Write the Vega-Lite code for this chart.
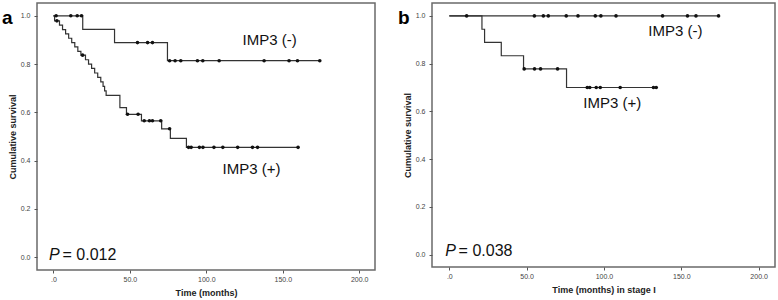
{
  "$schema": "https://vega.github.io/schema/vega-lite/v6.json",
  "padding": {"left": 1, "top": 2, "right": 0, "bottom": 0},
  "background": "white",
  "config": {
    "font": "Liberation Sans",
    "view": {"stroke": "#6a6a6a", "strokeWidth": 1.5},
    "axis": {
      "labelFont": "Liberation Sans", "labelFontSize": 7, "labelColor": "#444",
      "titleFont": "Liberation Sans", "titleFontSize": 9, "titleFontWeight": "bold", "titleColor": "#222",
      "tickColor": "#555", "tickSize": 3, "domain": false, "grid": false
    },
    "axisX": {"labelPadding": 2, "titlePadding": 6, "labelExpr": "datum.value == 0 ? '.0' : format(datum.value, '.1f')"},
    "axisY": {"labelPadding": 4, "titlePadding": 3, "format": ".1f"},
    "concat": {"spacing": 57},
    "title": {"font": "Liberation Sans", "fontSize": 19, "fontWeight": "bold", "color": "#000", "anchor": "start", "frame": "group", "offset": 0, "baseline": "alphabetic"}
  },
  "bounds": "flush",
  "datasets": {
    "km": [
      {"panel": "a", "group": "neg", "time": 0, "surv": 1, "censored": 0},
      {"panel": "a", "group": "neg", "time": 1.8, "surv": 1, "censored": 1},
      {"panel": "a", "group": "neg", "time": 11.4, "surv": 1, "censored": 1},
      {"panel": "a", "group": "neg", "time": 15.6, "surv": 1, "censored": 1},
      {"panel": "a", "group": "neg", "time": 18.4, "surv": 1, "censored": 1},
      {"panel": "a", "group": "neg", "time": 19.2, "surv": 0.944, "censored": 0},
      {"panel": "a", "group": "neg", "time": 40, "surv": 0.889, "censored": 0},
      {"panel": "a", "group": "neg", "time": 55, "surv": 0.889, "censored": 1},
      {"panel": "a", "group": "neg", "time": 61.6, "surv": 0.889, "censored": 1},
      {"panel": "a", "group": "neg", "time": 64.8, "surv": 0.889, "censored": 1},
      {"panel": "a", "group": "neg", "time": 74.6, "surv": 0.814, "censored": 0},
      {"panel": "a", "group": "neg", "time": 76, "surv": 0.814, "censored": 1},
      {"panel": "a", "group": "neg", "time": 79.6, "surv": 0.814, "censored": 1},
      {"panel": "a", "group": "neg", "time": 83.3, "surv": 0.814, "censored": 1},
      {"panel": "a", "group": "neg", "time": 94.2, "surv": 0.814, "censored": 1},
      {"panel": "a", "group": "neg", "time": 97.7, "surv": 0.814, "censored": 1},
      {"panel": "a", "group": "neg", "time": 108.4, "surv": 0.814, "censored": 1},
      {"panel": "a", "group": "neg", "time": 137.8, "surv": 0.814, "censored": 1},
      {"panel": "a", "group": "neg", "time": 154.1, "surv": 0.814, "censored": 1},
      {"panel": "a", "group": "neg", "time": 159.6, "surv": 0.814, "censored": 1},
      {"panel": "a", "group": "neg", "time": 174.2, "surv": 0.814, "censored": 1},

      {"panel": "a", "group": "pos", "time": 0, "surv": 1, "censored": 0},
      {"panel": "a", "group": "pos", "time": 0.8, "surv": 0.979, "censored": 0},
      {"panel": "a", "group": "pos", "time": 2.3, "surv": 0.979, "censored": 1},
      {"panel": "a", "group": "pos", "time": 4, "surv": 0.961, "censored": 0},
      {"panel": "a", "group": "pos", "time": 6, "surv": 0.943, "censored": 0},
      {"panel": "a", "group": "pos", "time": 8, "surv": 0.925, "censored": 0},
      {"panel": "a", "group": "pos", "time": 10, "surv": 0.907, "censored": 0},
      {"panel": "a", "group": "pos", "time": 12, "surv": 0.889, "censored": 0},
      {"panel": "a", "group": "pos", "time": 14, "surv": 0.871, "censored": 0},
      {"panel": "a", "group": "pos", "time": 16, "surv": 0.853, "censored": 0},
      {"panel": "a", "group": "pos", "time": 18, "surv": 0.837, "censored": 0},
      {"panel": "a", "group": "pos", "time": 19.1, "surv": 0.837, "censored": 1},
      {"panel": "a", "group": "pos", "time": 21, "surv": 0.818, "censored": 0},
      {"panel": "a", "group": "pos", "time": 23, "surv": 0.8, "censored": 0},
      {"panel": "a", "group": "pos", "time": 25, "surv": 0.782, "censored": 0},
      {"panel": "a", "group": "pos", "time": 27, "surv": 0.763, "censored": 0},
      {"panel": "a", "group": "pos", "time": 29, "surv": 0.745, "censored": 0},
      {"panel": "a", "group": "pos", "time": 31, "surv": 0.726, "censored": 0},
      {"panel": "a", "group": "pos", "time": 32.5, "surv": 0.708, "censored": 0},
      {"panel": "a", "group": "pos", "time": 33.5, "surv": 0.689, "censored": 0},
      {"panel": "a", "group": "pos", "time": 34.5, "surv": 0.67, "censored": 0},
      {"panel": "a", "group": "pos", "time": 43.5, "surv": 0.62, "censored": 0},
      {"panel": "a", "group": "pos", "time": 47.8, "surv": 0.592, "censored": 0},
      {"panel": "a", "group": "pos", "time": 48.5, "surv": 0.592, "censored": 1},
      {"panel": "a", "group": "pos", "time": 55.4, "surv": 0.592, "censored": 1},
      {"panel": "a", "group": "pos", "time": 57.6, "surv": 0.565, "censored": 0},
      {"panel": "a", "group": "pos", "time": 59.4, "surv": 0.565, "censored": 1},
      {"panel": "a", "group": "pos", "time": 62.8, "surv": 0.565, "censored": 1},
      {"panel": "a", "group": "pos", "time": 64.8, "surv": 0.565, "censored": 1},
      {"panel": "a", "group": "pos", "time": 70.2, "surv": 0.565, "censored": 1},
      {"panel": "a", "group": "pos", "time": 70.8, "surv": 0.532, "censored": 0},
      {"panel": "a", "group": "pos", "time": 76, "surv": 0.532, "censored": 1},
      {"panel": "a", "group": "pos", "time": 76.5, "surv": 0.492, "censored": 0},
      {"panel": "a", "group": "pos", "time": 87, "surv": 0.455, "censored": 0},
      {"panel": "a", "group": "pos", "time": 88.4, "surv": 0.455, "censored": 1},
      {"panel": "a", "group": "pos", "time": 90.1, "surv": 0.455, "censored": 1},
      {"panel": "a", "group": "pos", "time": 95.5, "surv": 0.455, "censored": 1},
      {"panel": "a", "group": "pos", "time": 97.8, "surv": 0.455, "censored": 1},
      {"panel": "a", "group": "pos", "time": 105, "surv": 0.455, "censored": 1},
      {"panel": "a", "group": "pos", "time": 110.8, "surv": 0.455, "censored": 1},
      {"panel": "a", "group": "pos", "time": 120.5, "surv": 0.455, "censored": 1},
      {"panel": "a", "group": "pos", "time": 130.2, "surv": 0.455, "censored": 1},
      {"panel": "a", "group": "pos", "time": 133.5, "surv": 0.455, "censored": 1},
      {"panel": "a", "group": "pos", "time": 160, "surv": 0.455, "censored": 1},

      {"panel": "b", "group": "neg", "time": 0, "surv": 1, "censored": 0},
      {"panel": "b", "group": "neg", "time": 11.2, "surv": 1, "censored": 1},
      {"panel": "b", "group": "neg", "time": 55, "surv": 1, "censored": 1},
      {"panel": "b", "group": "neg", "time": 60.8, "surv": 1, "censored": 1},
      {"panel": "b", "group": "neg", "time": 64, "surv": 1, "censored": 1},
      {"panel": "b", "group": "neg", "time": 75.6, "surv": 1, "censored": 1},
      {"panel": "b", "group": "neg", "time": 83.2, "surv": 1, "censored": 1},
      {"panel": "b", "group": "neg", "time": 94.4, "surv": 1, "censored": 1},
      {"panel": "b", "group": "neg", "time": 98, "surv": 1, "censored": 1},
      {"panel": "b", "group": "neg", "time": 107.8, "surv": 1, "censored": 1},
      {"panel": "b", "group": "neg", "time": 137.9, "surv": 1, "censored": 1},
      {"panel": "b", "group": "neg", "time": 154, "surv": 1, "censored": 1},
      {"panel": "b", "group": "neg", "time": 159.5, "surv": 1, "censored": 1},
      {"panel": "b", "group": "neg", "time": 174.1, "surv": 1, "censored": 1},

      {"panel": "b", "group": "pos", "time": 0, "surv": 1, "censored": 0},
      {"panel": "b", "group": "pos", "time": 21.1, "surv": 0.944, "censored": 0},
      {"panel": "b", "group": "pos", "time": 22.8, "surv": 0.889, "censored": 0},
      {"panel": "b", "group": "pos", "time": 33.6, "surv": 0.833, "censored": 0},
      {"panel": "b", "group": "pos", "time": 48, "surv": 0.778, "censored": 0},
      {"panel": "b", "group": "pos", "time": 48.4, "surv": 0.778, "censored": 1},
      {"panel": "b", "group": "pos", "time": 55.1, "surv": 0.778, "censored": 1},
      {"panel": "b", "group": "pos", "time": 59, "surv": 0.778, "censored": 1},
      {"panel": "b", "group": "pos", "time": 70, "surv": 0.778, "censored": 1},
      {"panel": "b", "group": "pos", "time": 75.8, "surv": 0.7, "censored": 0},
      {"panel": "b", "group": "pos", "time": 89.2, "surv": 0.7, "censored": 1},
      {"panel": "b", "group": "pos", "time": 90.8, "surv": 0.7, "censored": 1},
      {"panel": "b", "group": "pos", "time": 95, "surv": 0.7, "censored": 1},
      {"panel": "b", "group": "pos", "time": 97.6, "surv": 0.7, "censored": 1},
      {"panel": "b", "group": "pos", "time": 110.5, "surv": 0.7, "censored": 1},
      {"panel": "b", "group": "pos", "time": 132, "surv": 0.7, "censored": 1},
      {"panel": "b", "group": "pos", "time": 133.8, "surv": 0.7, "censored": 1}
    ],
    "labels": [
      {"panel": "a", "kind": "group", "label": "IMP3 (-)", "time": 123.7, "surv": 0.899},
      {"panel": "a", "kind": "group", "label": "IMP3 (+)", "time": 110.6, "surv": 0.365},
      {"panel": "a", "kind": "p", "label": "P", "time": -2.9, "surv": 0.01},
      {"panel": "a", "kind": "pval", "label": "= 0.012", "time": 6.0, "surv": 0.01},
      {"panel": "b", "kind": "group", "label": "IMP3 (-)", "time": 128.7, "surv": 0.938},
      {"panel": "b", "kind": "group", "label": "IMP3 (+)", "time": 86.6, "surv": 0.635},
      {"panel": "b", "kind": "p", "label": "P", "time": -2.6, "surv": 0.013},
      {"panel": "b", "kind": "pval", "label": "= 0.038", "time": 6.0, "surv": 0.013}
    ]
  },
  "hconcat": [
    {
      "width": 338,
      "height": 267,
      "title": {"text": "a", "dx": -35, "dy": 29},
      "encoding": {
        "x": {"field": "time", "type": "quantitative", "scale": {"domain": [-10.7, 210.3], "nice": false, "zero": false}, "axis": {"values": [0, 50, 100, 150, 200], "title": "Time (months)"}},
        "y": {"field": "surv", "type": "quantitative", "scale": {"domain": [-0.053, 1.053], "nice": false, "zero": false}, "axis": {"values": [0, 0.2, 0.4, 0.6, 0.8, 1.0], "title": "Cumulative survival"}}
      },
      "layer": [
        {"data": {"name": "km"}, "transform": [{"filter": "datum.panel == 'a'"}], "mark": {"type": "line", "interpolate": "step-after", "color": "#333", "strokeWidth": 1.2}, "encoding": {"detail": {"field": "group"}}},
        {"data": {"name": "km"}, "transform": [{"filter": "datum.panel == 'a' && datum.censored == 1"}], "mark": {"type": "circle", "size": 13, "color": "#111", "opacity": 1}},
        {"data": {"name": "labels"}, "transform": [{"filter": "datum.panel == 'a' && datum.kind == 'group'"}], "mark": {"type": "text", "align": "left", "baseline": "middle", "fontSize": 15, "color": "#111"}, "encoding": {"text": {"field": "label"}}},
        {"data": {"name": "labels"}, "transform": [{"filter": "datum.panel == 'a' && datum.kind == 'p'"}], "mark": {"type": "text", "align": "left", "baseline": "middle", "fontSize": 16, "fontStyle": "italic", "color": "#111"}, "encoding": {"text": {"field": "label"}}},
        {"data": {"name": "labels"}, "transform": [{"filter": "datum.panel == 'a' && datum.kind == 'pval'"}], "mark": {"type": "text", "align": "left", "baseline": "middle", "fontSize": 16, "color": "#111"}, "encoding": {"text": {"field": "label"}}}
      ]
    },
    {
      "width": 343,
      "height": 264,
      "title": {"text": "b", "dx": -34, "dy": 29},
      "encoding": {
        "x": {"field": "time", "type": "quantitative", "scale": {"domain": [-11.2, 210.6], "nice": false, "zero": false}, "axis": {"values": [0, 50, 100, 150, 200], "title": "Time (months) in stage I"}},
        "y": {"field": "surv", "type": "quantitative", "scale": {"domain": [-0.052, 1.054], "nice": false, "zero": false}, "axis": {"values": [0, 0.2, 0.4, 0.6, 0.8, 1.0], "title": "Cumulative survival"}}
      },
      "layer": [
        {"data": {"name": "km"}, "transform": [{"filter": "datum.panel == 'b'"}], "mark": {"type": "line", "interpolate": "step-after", "color": "#333", "strokeWidth": 1.2}, "encoding": {"detail": {"field": "group"}}},
        {"data": {"name": "km"}, "transform": [{"filter": "datum.panel == 'b' && datum.censored == 1"}], "mark": {"type": "circle", "size": 13, "color": "#111", "opacity": 1}},
        {"data": {"name": "labels"}, "transform": [{"filter": "datum.panel == 'b' && datum.kind == 'group'"}], "mark": {"type": "text", "align": "left", "baseline": "middle", "fontSize": 15, "color": "#111"}, "encoding": {"text": {"field": "label"}}},
        {"data": {"name": "labels"}, "transform": [{"filter": "datum.panel == 'b' && datum.kind == 'p'"}], "mark": {"type": "text", "align": "left", "baseline": "middle", "fontSize": 16, "fontStyle": "italic", "color": "#111"}, "encoding": {"text": {"field": "label"}}},
        {"data": {"name": "labels"}, "transform": [{"filter": "datum.panel == 'b' && datum.kind == 'pval'"}], "mark": {"type": "text", "align": "left", "baseline": "middle", "fontSize": 16, "color": "#111"}, "encoding": {"text": {"field": "label"}}}
      ]
    }
  ]
}
